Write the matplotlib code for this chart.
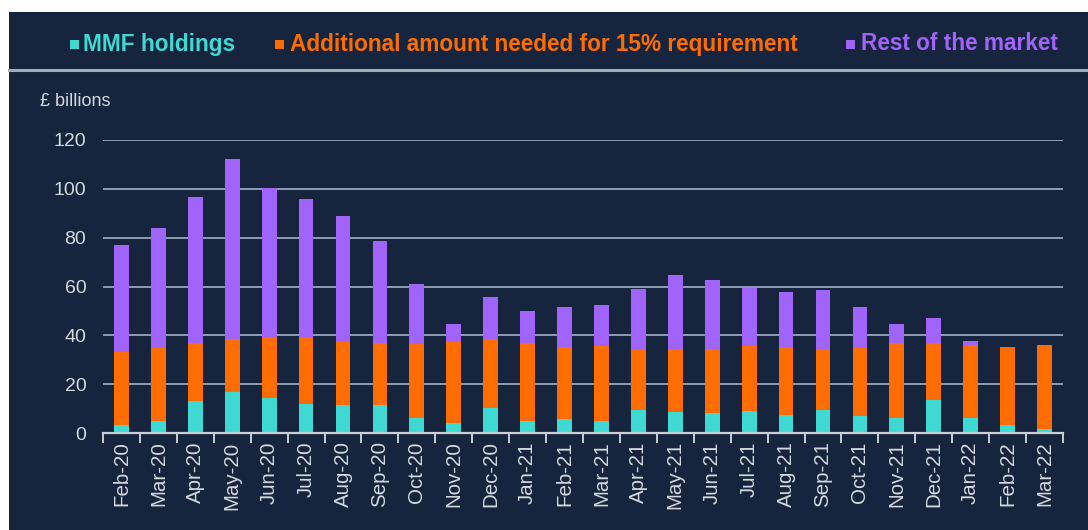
import matplotlib
matplotlib.use("Agg")
import matplotlib.pyplot as plt
from matplotlib.patches import Rectangle
from matplotlib.lines import Line2D
import numpy as np

plt.rcParams['font.family'] = ['Liberation Sans', 'DejaVu Sans']

months = ['Feb-20', 'Mar-20', 'Apr-20', 'May-20', 'Jun-20', 'Jul-20', 'Aug-20', 'Sep-20',
          'Oct-20', 'Nov-20', 'Dec-20', 'Jan-21', 'Feb-21', 'Mar-21', 'Apr-21', 'May-21',
          'Jun-21', 'Jul-21', 'Aug-21', 'Sep-21', 'Oct-21', 'Nov-21', 'Dec-21', 'Jan-22',
          'Feb-22', 'Mar-22']
mmf_holdings = [3.1, 4.9, 13.1, 16.9, 14.2, 11.9, 11.3, 11.3, 6.3, 4.2, 10.1, 4.8, 5.9,
                4.8, 9.4, 8.5, 8.1, 9.1, 7.4, 9.6, 7.0, 6.3, 13.5, 6.3, 3.1, 1.5]
additional_needed = [30.1, 30.1, 23.9, 21.8, 25.0, 27.3, 26.4, 25.7, 30.2, 33.2, 28.3, 32.1,
                     29.5, 31.0, 24.9, 26.1, 26.5, 26.7, 28.0, 24.7, 27.8, 30.4, 23.5, 29.6,
                     31.7, 34.4]
rest_of_market = [43.8, 48.9, 59.7, 73.5, 61.1, 56.8, 51.0, 41.6, 24.4, 7.4, 17.2, 13.2,
                  16.4, 16.5, 24.6, 30.3, 28.1, 23.6, 22.4, 24.3, 17.0, 8.0, 10.3, 1.7,
                  0.6, 0.0]
series_labels = ['MMF holdings', 'Additional amount needed for 15% requirement',
                 'Rest of the market']
y_ticks = [0, 20, 40, 60, 80, 100, 120]

c_mmf = '#3fd8d2'
c_add = '#ff6c00'
c_rest = '#a064fa'
navy = '#16253d'
grid_c = '#8f9db2'
text_c = '#d3d7de'

W, H = 1088, 530
fig = plt.figure(figsize=(W / 100, H / 100), dpi=100, facecolor='white')
# navy panel with white margins top/left
fig.patches.append(Rectangle((9 / W, 0), 1 - 9 / W, 1 - 12 / H,
                             transform=fig.transFigure, facecolor=navy,
                             edgecolor='none', zorder=0))
# separator line under legend
fig.lines.append(Line2D([9 / W, 1], [1 - 70 / H, 1 - 70 / H],
                        transform=fig.transFigure, color='#a3acba', lw=2.2, zorder=1))

ax = fig.add_axes([103 / W, 1 - 433 / H, (1063 - 103) / W, (433 - 140) / H])
ax.set_zorder(2)
ax.set_facecolor('none')

x = np.arange(len(months))
w = 0.4
mmf = np.array(mmf_holdings)
add = np.array(additional_needed)
rest = np.array(rest_of_market)
ax.bar(x, mmf, width=w, color=c_mmf, zorder=3)
ax.bar(x, add, width=w, bottom=mmf, color=c_add, zorder=3)
ax.bar(x, rest, width=w, bottom=mmf + add, color=c_rest, zorder=3)

ax.set_xlim(-0.5, len(months) - 0.5)
ax.set_ylim(0, 120)
ax.set_yticks(y_ticks)
ax.set_yticklabels([str(v) for v in y_ticks], color=text_c, fontsize=14)
for v in y_ticks[1:]:
    ax.axhline(v, color=grid_c, lw=1.4, zorder=1)

ax.set_xticks(x)
ax.set_xticklabels(months, rotation=90, color=text_c, fontsize=14.8)
ax.tick_params(axis='x', length=0, pad=6)
ax.set_xticks(np.arange(-0.5, len(months), 1.0), minor=True)
ax.tick_params(axis='x', which='minor', length=7, width=1.4, color='#c9ced6', direction='out')
ax.tick_params(axis='y', length=0, pad=12)

for s in ['top', 'right', 'left']:
    ax.spines[s].set_visible(False)
ax.spines['bottom'].set_color('#c9ced6')
ax.spines['bottom'].set_linewidth(1.6)
ax.spines['bottom'].set_zorder(4)

fig.text(40 / W, 1 - 101 / H, '£ billions', color=text_c, fontsize=13,
         va='center', ha='left')

# legend, laid out by hand
leg_y = 1 - 44 / H
marker_x = [70, 275, 846]
text_x = [83, 290, 861]
for mx, tx, lab, c in zip(marker_x, text_x, series_labels, (c_mmf, c_add, c_rest)):
    fig.patches.append(Rectangle((mx / W, leg_y - 4.5 / H), 9 / W, 9 / H,
                                 transform=fig.transFigure, facecolor=c,
                                 edgecolor='none', zorder=3))
    fig.text(tx / W, leg_y, lab, color=c, fontsize=16.3, fontweight='bold',
             va='center', ha='left')

fig.savefig('out.png', dpi=100, facecolor=fig.get_facecolor())
